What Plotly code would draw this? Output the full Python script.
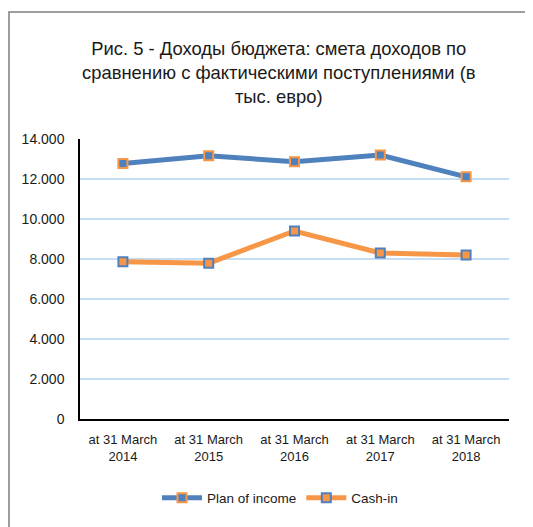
import plotly.graph_objects as go

categories = ["at 31 March<br>2014", "at 31 March<br>2015", "at 31 March<br>2016",
              "at 31 March<br>2017", "at 31 March<br>2018"]
plan_of_income = [12780, 13160, 12860, 13200, 12110]
cash_in = [7860, 7790, 9400, 8300, 8200]
y_ticks = [0, 2000, 4000, 6000, 8000, 10000, 12000, 14000]

BLUE = "#4F81BD"
ORANGE = "#F79646"
FONT = "Liberation Sans, Arial, sans-serif"

OFF = 8  # page body margin
W, H = 525, 519
# target plot area in screen coords: x 80..509, y 139..419
L, T = 80 - OFF, 139 - OFF
R, B = W - (509 - OFF), H - (419 - OFF)
pw, ph = W - L - R, H - T - B

def px(x):  # screen x -> paper
    return (x - OFF - L) / pw

def py(y):  # screen y -> paper
    return (H - B - (y - OFF)) / ph

fig = go.Figure()
fig.add_trace(go.Scatter(
    x=categories, y=plan_of_income, name="Plan of income", mode="lines+markers",
    line=dict(color=BLUE, width=5),
    marker=dict(symbol="square", size=9, color=BLUE, line=dict(color=ORANGE, width=2)),
))
fig.add_trace(go.Scatter(
    x=categories, y=cash_in, name="Cash-in", mode="lines+markers",
    line=dict(color=ORANGE, width=5),
    marker=dict(symbol="square", size=9, color=ORANGE, line=dict(color=BLUE, width=2)),
))

fig.update_layout(
    width=W, height=H,
    margin=dict(l=L, r=R, t=T, b=B),
    paper_bgcolor="white", plot_bgcolor="white",
    separators=",.",
    font=dict(family=FONT, size=13, color="#1a1a1a"),
    showlegend=True,
    legend=dict(orientation="h", x=px(280), xanchor="center", y=py(498), yanchor="middle",
                font=dict(size=13.5), bgcolor="rgba(0,0,0,0)", itemwidth=40),
    xaxis=dict(type="category", range=[-0.5, 4.5], showgrid=False, ticks="",
               showline=True, linecolor="#000000", linewidth=1.5,
               tickfont=dict(size=13), tickangle=0, automargin=False,
               ticklabelstandoff=8),
    yaxis=dict(range=[0, 14000], tickvals=y_ticks, tickformat=",d",
               showgrid=True, gridcolor="#C5DEF5", gridwidth=1.5,
               showline=True, linecolor="#000000", linewidth=1.5,
               zeroline=False, ticks="", tickfont=dict(size=14), automargin=False,
               ticklabelstandoff=11),
    annotations=[dict(
        text="Рис. 5 - Доходы бюджета: смета доходов по<br>сравнению с фактическими поступлениями (в<br>тыс. евро)",
        x=px(279), y=py(73), xref="paper", yref="paper", xanchor="center", yanchor="middle",
        showarrow=False, font=dict(size=18.4, family=FONT, color="#1a1a1a"), align="center",
    )],
    shapes=[dict(type="rect", xref="paper", yref="paper",
                 x0=px(9), x1=px(560), y0=py(560), y1=py(12),
                 line=dict(color="#7F7F7F", width=1.5), fillcolor="rgba(0,0,0,0)", layer="below")],
)

fig.write_html("out.html")
